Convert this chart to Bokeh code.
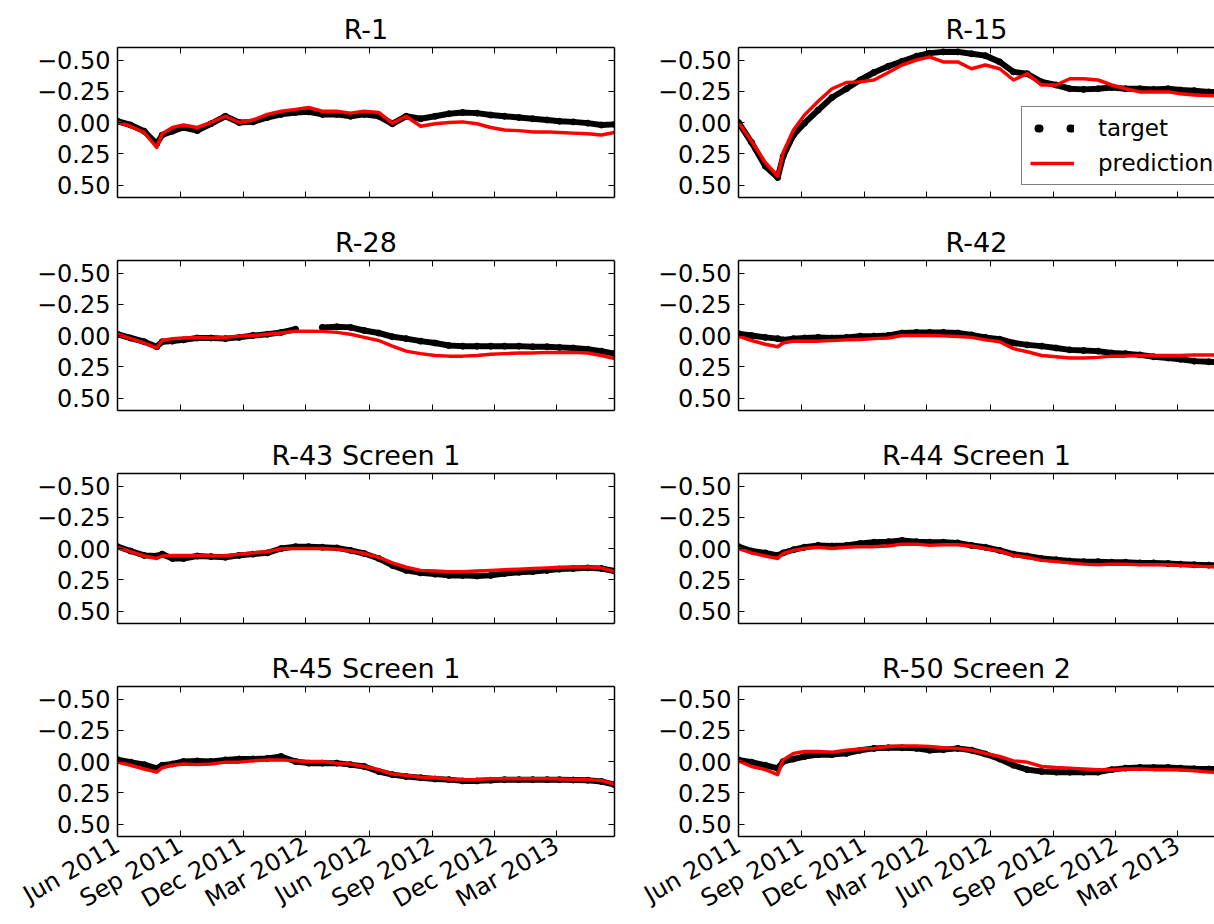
import math
from datetime import datetime
import numpy as np
import pandas as pd
from bokeh.plotting import figure
from bokeh.layouts import column, row
from bokeh.models import (Range1d, FixedTicker, DatetimeTickFormatter, DatetimeAxis,
                          LinearAxis, Legend, LegendItem, ColumnDataSource)
from bokeh.embed import file_html
from bokeh.resources import INLINE

FONT = "DejaVu Sans"

# ---------------- data ----------------
dates = ["2011-06-01", "2011-06-20", "2011-07-10", "2011-07-28", "2011-08-05", "2011-08-20",
         "2011-09-05", "2011-09-25", "2011-10-15", "2011-11-05", "2011-11-25", "2011-12-15",
         "2012-01-05", "2012-01-25", "2012-02-15", "2012-03-05", "2012-03-25", "2012-04-15",
         "2012-05-05", "2012-05-25", "2012-06-15", "2012-07-05", "2012-07-25", "2012-08-15",
         "2012-09-05", "2012-09-25", "2012-10-15", "2012-11-05", "2012-11-25", "2012-12-15",
         "2013-01-05", "2013-01-25", "2013-02-15", "2013-03-05", "2013-03-25", "2013-04-15",
         "2013-05-05", "2013-05-24"]

titles = ["R-1", "R-15", "R-28", "R-42", "R-43 Screen 1", "R-44 Screen 1",
          "R-45 Screen 1", "R-50 Screen 2"]

r1_target = [-0.01, 0.02, 0.07, 0.17, 0.10, 0.07, 0.04, 0.065, 0.01, -0.05, 0.0, -0.005,
             -0.04, -0.065, -0.08, -0.085, -0.065, -0.065, -0.05, -0.065, -0.05, 0.01, -0.05,
             -0.03, -0.05, -0.07, -0.08, -0.075, -0.06, -0.05, -0.04, -0.03, -0.02, -0.01,
             -0.005, 0.005, 0.02, 0.015]
r1_pred = [-0.005, 0.03, 0.08, 0.20, 0.09, 0.04, 0.02, 0.04, 0.0, -0.05, 0.0, -0.02,
           -0.065, -0.09, -0.105, -0.12, -0.09, -0.09, -0.075, -0.09, -0.08, 0.005, -0.05,
           0.03, 0.01, 0.0, -0.005, 0.01, 0.04, 0.06, 0.065, 0.075, 0.075, 0.08, 0.085, 0.09,
           0.1, 0.08]

r15_target = [0.0, 0.16, 0.35, 0.44, 0.27, 0.1, 0.005, -0.10, -0.2, -0.27, -0.34, -0.40,
              -0.45, -0.49, -0.53, -0.555, -0.565, -0.565, -0.55, -0.535, -0.485, -0.405,
              -0.39, -0.325, -0.3, -0.27, -0.265, -0.27, -0.28, -0.27, -0.27, -0.265, -0.27,
              -0.26, -0.255, -0.245, -0.24, -0.24]
r15_pred = [0.0, 0.15, 0.32, 0.43, 0.24, 0.06, -0.06, -0.17, -0.27, -0.32, -0.325, -0.34,
            -0.40, -0.46, -0.50, -0.525, -0.485, -0.485, -0.43, -0.46, -0.43, -0.34, -0.39,
            -0.3, -0.3, -0.35, -0.35, -0.34, -0.3, -0.27, -0.245, -0.245, -0.245, -0.23,
            -0.22, -0.215, -0.21, -0.21]

r28_target = [-0.01, 0.02, 0.05, 0.09, 0.05, 0.045, 0.035, 0.02, 0.02, 0.025, 0.015, 0.0,
              -0.01, -0.025, -0.05, np.nan, -0.065, -0.07, -0.065, -0.04, -0.02, 0.01, 0.025,
              0.045, 0.06, 0.08, 0.085, 0.085, 0.085, 0.085, 0.085, 0.09, 0.09, 0.095, 0.1,
              0.11, 0.125, 0.145]
r28_pred = [-0.01, 0.025, 0.06, 0.1, 0.04, 0.025, 0.02, 0.015, 0.02, 0.015, 0.005, 0.0,
            -0.01, -0.02, -0.035, -0.035, -0.033, -0.025, -0.01, 0.015, 0.04, 0.085, 0.125,
            0.145, 0.16, 0.165, 0.165, 0.16, 0.15, 0.145, 0.14, 0.14, 0.135, 0.135, 0.135,
            0.14, 0.16, 0.185]

r42_target = [-0.015, 0.0, 0.015, 0.025, 0.035, 0.025, 0.02, 0.015, 0.02, 0.015, 0.005,
              0.005, 0.0, -0.02, -0.025, -0.025, -0.025, -0.02, -0.005, 0.015, 0.03, 0.06,
              0.075, 0.085, 0.1, 0.115, 0.12, 0.125, 0.14, 0.145, 0.155, 0.17, 0.18, 0.19,
              0.205, 0.21, 0.215, 0.22]
r42_pred = [0.005, 0.04, 0.07, 0.09, 0.06, 0.045, 0.045, 0.045, 0.04, 0.035, 0.032, 0.025,
            0.02, 0.0, 0.0, 0.0, 0.003, 0.008, 0.015, 0.035, 0.05, 0.105, 0.13, 0.16, 0.17,
            0.18, 0.18, 0.175, 0.165, 0.165, 0.16, 0.16, 0.16, 0.16, 0.155, 0.155, 0.155,
            0.155]

r43_target = [-0.015, 0.02, 0.055, 0.06, 0.045, 0.08, 0.08, 0.06, 0.065, 0.07, 0.055, 0.045,
              0.035, 0.0, -0.015, -0.015, -0.01, -0.005, 0.015, 0.04, 0.08, 0.135, 0.175,
              0.195, 0.205, 0.215, 0.215, 0.22, 0.215, 0.2, 0.19, 0.185, 0.175, 0.165, 0.16,
              0.155, 0.16, 0.18]
r43_pred = [-0.01, 0.025, 0.06, 0.08, 0.06, 0.055, 0.055, 0.055, 0.06, 0.058, 0.045, 0.035,
            0.025, 0.003, 0.0, 0.0, 0.0, 0.005, 0.02, 0.04, 0.07, 0.115, 0.15, 0.175, 0.18,
            0.185, 0.185, 0.18, 0.175, 0.17, 0.165, 0.16, 0.155, 0.15, 0.147, 0.147, 0.155,
            0.185]

r44_target = [-0.015, 0.02, 0.035, 0.055, 0.035, 0.01, -0.01, -0.025, -0.02, -0.025, -0.04,
              -0.05, -0.055, -0.065, -0.055, -0.05, -0.05, -0.045, -0.025, -0.01, 0.015,
              0.045, 0.06, 0.08, 0.09, 0.1, 0.105, 0.105, 0.11, 0.11, 0.115, 0.115, 0.12,
              0.125, 0.13, 0.133, 0.135, 0.135]
r44_pred = [0.0, 0.035, 0.06, 0.08, 0.04, 0.015, 0.0, -0.01, 0.0, -0.01, -0.015, -0.015,
            -0.02, -0.035, -0.035, -0.025, -0.03, -0.03, -0.02, 0.0, 0.02, 0.055, 0.07, 0.095,
            0.105, 0.115, 0.125, 0.13, 0.125, 0.125, 0.13, 0.13, 0.13, 0.135, 0.14, 0.145,
            0.15, 0.15]

r45_target = [-0.015, 0.005, 0.025, 0.055, 0.03, 0.02, 0.0, -0.005, 0.0, -0.013, -0.02, -0.02,
              -0.025, -0.04, 0.0, 0.013, 0.013, 0.013, 0.025, 0.04, 0.08, 0.105, 0.12, 0.13,
              0.14, 0.145, 0.155, 0.155, 0.15, 0.145, 0.145, 0.145, 0.145, 0.145, 0.148, 0.15,
              0.16, 0.185]
r45_pred = [0.005, 0.03, 0.06, 0.085, 0.05, 0.03, 0.02, 0.025, 0.02, 0.005, 0.005, -0.005,
            -0.013, -0.013, -0.005, 0.0, 0.0, 0.013, 0.02, 0.04, 0.065, 0.1, 0.11, 0.125, 0.13,
            0.14, 0.145, 0.143, 0.137, 0.137, 0.137, 0.137, 0.137, 0.14, 0.143, 0.145, 0.153,
            0.18]

r50_target = [-0.013, 0.005, 0.03, 0.055, 0.0, -0.02, -0.04, -0.055, -0.055, -0.065, -0.09,
              -0.105, -0.11, -0.11, -0.105, -0.09, -0.095, -0.105, -0.09, -0.06, -0.02, 0.03,
              0.065, 0.08, 0.085, 0.085, 0.085, 0.085, 0.065, 0.053, 0.048, 0.048, 0.048,
              0.053, 0.058, 0.06, 0.06, 0.06]
r50_pred = [-0.005, 0.04, 0.065, 0.105, -0.013, -0.065, -0.08, -0.08, -0.075, -0.09, -0.1,
            -0.105, -0.12, -0.125, -0.125, -0.12, -0.11, -0.105, -0.09, -0.065, -0.04, -0.005,
            0.005, 0.04, 0.048, 0.053, 0.06, 0.065, 0.065, 0.06, 0.06, 0.065, 0.065, 0.068,
            0.074, 0.085, 0.09, 0.09]

targets = [r1_target, r15_target, r28_target, r42_target, r43_target, r44_target,
           r45_target, r50_target]
preds = [r1_pred, r15_pred, r28_pred, r42_pred, r43_pred, r44_pred, r45_pred, r50_pred]

x_tick_dates = ["2011-06-01", "2011-09-01", "2011-12-01", "2012-03-01", "2012-06-01",
                "2012-09-01", "2012-12-01", "2013-03-01"]
y_ticks = [-0.5, -0.25, 0, 0.25, 0.5]
y_tick_labels = ["\u22120.50", "\u22120.25", "0.00", "0.25", "0.50"]

X_START = datetime(2011, 6, 1)
X_END = datetime(2013, 5, 24)

# ---------------- layout constants ----------------
FW_L, FW_R, FH = 497, 476, 150
x_ms = [pd.Timestamp(d).value / 1e6 for d in x_tick_dates]
fmt = DatetimeTickFormatter(years="%b %Y", months="%b %Y", days="%b %Y", hours="%b %Y",
                            minutes="%b %Y", seconds="%b %Y", milliseconds="%b %Y",
                            minsec="%b %Y", hourmin="%b %Y")


def style_axis(ax, labels):
    ax.axis_line_color = "black"
    ax.axis_line_width = 1.5
    ax.major_tick_in = 6
    ax.major_tick_out = 0
    ax.major_tick_line_color = "black"
    ax.major_tick_line_width = 1
    ax.minor_tick_line_color = None
    ax.major_label_text_font = FONT
    if labels:
        ax.major_label_text_color = "black"
        ax.major_label_text_font_size = "24px"
        ax.major_label_standoff = 7
    else:
        ax.major_label_text_color = None
        ax.major_label_text_font_size = "1px"
        ax.major_label_standoff = 0


def make_panel(idx):
    r, c = divmod(idx, 2)
    left_col = c == 0
    bottom_row = r == 3
    fw = FW_L if left_col else FW_R
    x_end = X_END if left_col else X_START + (X_END - X_START) * (FW_R / FW_L)
    p = figure(frame_width=fw, frame_height=FH, x_axis_type="datetime",
               x_range=Range1d(X_START, x_end), y_range=Range1d(0.6, -0.6),
               output_backend="svg", toolbar_location=None, title=titles[idx],
               min_border_left=117 if left_col else 114,
               min_border_right=10 if left_col else 0,
               min_border_top=47 if r == 0 else 45,
               min_border_bottom=86 if bottom_row else 18)
    p.outline_line_color = None
    p.xgrid.visible = False
    p.ygrid.visible = False
    p.background_fill_color = "white"
    p.border_fill_color = "white"

    p.title.align = "center"
    p.title.text_font = FONT
    p.title.text_font_size = "27px"
    p.title.text_font_style = "normal"
    p.title.text_color = "black"
    p.title.standoff = 6
    p.title.offset = 0

    p.xaxis.ticker = FixedTicker(ticks=x_ms)
    p.xaxis.formatter = fmt
    style_axis(p.xaxis[0], bottom_row)
    if bottom_row:
        p.xaxis.major_label_orientation = math.pi / 6

    p.yaxis.ticker = FixedTicker(ticks=y_ticks)
    p.yaxis.major_label_overrides = dict(zip(y_ticks, y_tick_labels))
    style_axis(p.yaxis[0], True)

    top = DatetimeAxis(ticker=FixedTicker(ticks=x_ms), formatter=fmt)
    style_axis(top, False)
    p.add_layout(top, "above")
    if left_col:
        right = LinearAxis(ticker=FixedTicker(ticks=y_ticks))
        style_axis(right, False)
        p.add_layout(right, "right")

    src = ColumnDataSource(dict(x=pd.to_datetime(dates),
                                t=np.array(targets[idx], dtype=float),
                                pr=np.array(preds[idx], dtype=float)))
    p.line("x", "t", source=src, line_color="black", line_width=6,
           line_join="round", line_cap="round")
    p.scatter("x", "t", source=src, size=6, color="black")
    pr = p.line("x", "pr", source=src, line_color="red", line_width=3.5, line_join="round")

    if idx == 1:
        # legend-only renderer: one undrawable point, dotted pattern in the legend glyph
        dummy = p.line(x=[X_START], y=[np.nan], line_color="black", line_width=8,
                       line_dash="1 31", line_dash_offset=24, line_cap="round")
        leg = Legend(items=[LegendItem(label="target", renderers=[dummy]),
                            LegendItem(label="prediction", renderers=[pr])],
                     location=(283, 12), padding=8, spacing=9, margin=0,
                     glyph_width=44, glyph_height=26, label_height=26, label_standoff=24,
                     label_text_font=FONT, label_text_font_size="23px",
                     label_text_color="black",
                     border_line_color="black", border_line_width=1.2,
                     background_fill_color="white", background_fill_alpha=1.0)
        p.add_layout(leg)
    return p


panels = [make_panel(i) for i in range(8)]
layout = column(*[row(panels[2 * k], panels[2 * k + 1]) for k in range(4)])

open("out.html", "w").write(file_html(layout, INLINE))
